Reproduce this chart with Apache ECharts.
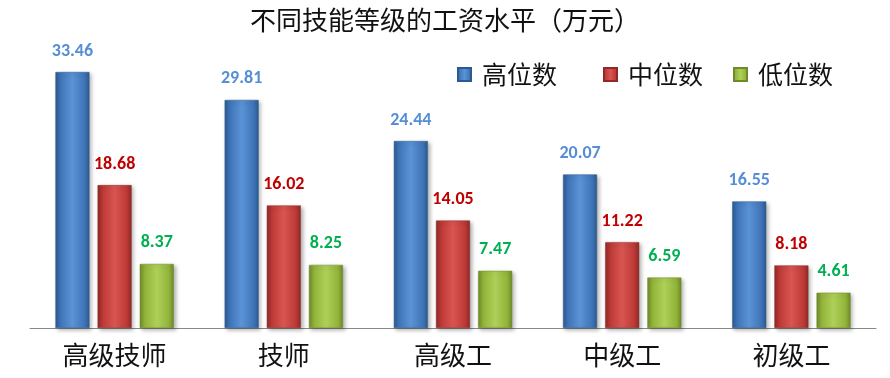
<!DOCTYPE html>
<html>
<head>
<meta charset="utf-8">
<script src="https://cdn.jsdelivr.net/npm/echarts@6/dist/echarts.min.js"></script>
<style>
    html, body { margin: 0; padding: 0; background: #fff; }
    #chart { width: 890px; height: 378px; }
</style>
</head>
<body>
<div id="chart"></div>
<script>
const categories = ['高级技师', '技师', '高级工', '中级工', '初级工'];
const seriesNames = ['高位数', '中位数', '低位数'];
const highValues = [33.46, 29.81, 24.44, 20.07, 16.55];
const midValues = [18.68, 16.02, 14.05, 11.22, 8.18];
const lowValues = [8.37, 8.25, 7.47, 6.59, 4.61];

const font = '"Noto Sans CJK SC", "DejaVu Sans", sans-serif';

// 横向渐变模拟立体柱子
function barColor(dark, mid, light) {
    return new echarts.graphic.LinearGradient(0, 0, 1, 0, [
        { offset: 0, color: dark },
        { offset: 0.15, color: mid },
        { offset: 0.5, color: light },
        { offset: 0.85, color: mid },
        { offset: 1, color: dark }
    ]);
}

function makeSeries(name, data, colors, labelColor) {
    return {
        name: name,
        type: 'bar',
        barWidth: 34,
        barGap: '24%',
        data: data,
        itemStyle: {
            color: barColor(colors[0], colors[1], colors[2]),
            borderColor: colors[0],
            borderWidth: 0.5,
            shadowColor: 'rgba(0,0,0,0.3)',
            shadowBlur: 4,
            shadowOffsetX: 2,
            shadowOffsetY: 2
        },
        label: {
            show: true,
            position: 'top',
            distance: 12,
            color: labelColor,
            fontSize: 18,
            fontWeight: 'bold',
            fontFamily: 'Calibri, Carlito, "Liberation Sans", sans-serif',
            formatter: p => p.value.toFixed(2)
        }
    };
}

// 每个图例单独定位
function makeLegend(name, left) {
    return {
        data: [name],
        top: 57,
        left: left,
        icon: 'rect',
        itemWidth: 13,
        itemHeight: 13,
        itemGap: 0,
        textStyle: {
            fontFamily: font,
            fontSize: 25,
            color: '#111',
            padding: [0, 0, 0, 6]
        }
    };
}

const myEcharts = echarts.init(document.getElementById('chart'));
const option = {
    backgroundColor: '#fff',
    animation: false,
    title: {
        text: '不同技能等级的工资水平（万元）',
        left: 'center',
        top: 2,
        textStyle: {
            fontFamily: font,
            fontSize: 26,
            fontWeight: 'normal',
            color: '#111'
        }
    },
    legend: [
        makeLegend(seriesNames[0], 452),
        makeLegend(seriesNames[1], 598),
        makeLegend(seriesNames[2], 728)
    ],
    grid: {
        left: 30,
        right: 14,
        top: 22,
        bottom: 50
    },
    xAxis: {
        type: 'category',
        data: categories,
        axisLine: { show: true, lineStyle: { color: '#888', width: 1 } },
        axisTick: { show: false },
        axisLabel: {
            margin: 14,
            fontFamily: font,
            fontSize: 26,
            color: '#111'
        }
    },
    yAxis: {
        type: 'value',
        min: 0,
        max: 40,
        show: false
    },
    series: [
        makeSeries(seriesNames[0], highValues, ['#2c5a8f', '#3f75b8', '#5a93d6'], '#558ed5'),
        makeSeries(seriesNames[1], midValues, ['#8f2a28', '#bd3a37', '#d85552'], '#c00000'),
        makeSeries(seriesNames[2], lowValues, ['#6e8a2a', '#93b43a', '#aed058'], '#00b050')
    ]
};
myEcharts.setOption(option);
</script>
</body>
</html>
